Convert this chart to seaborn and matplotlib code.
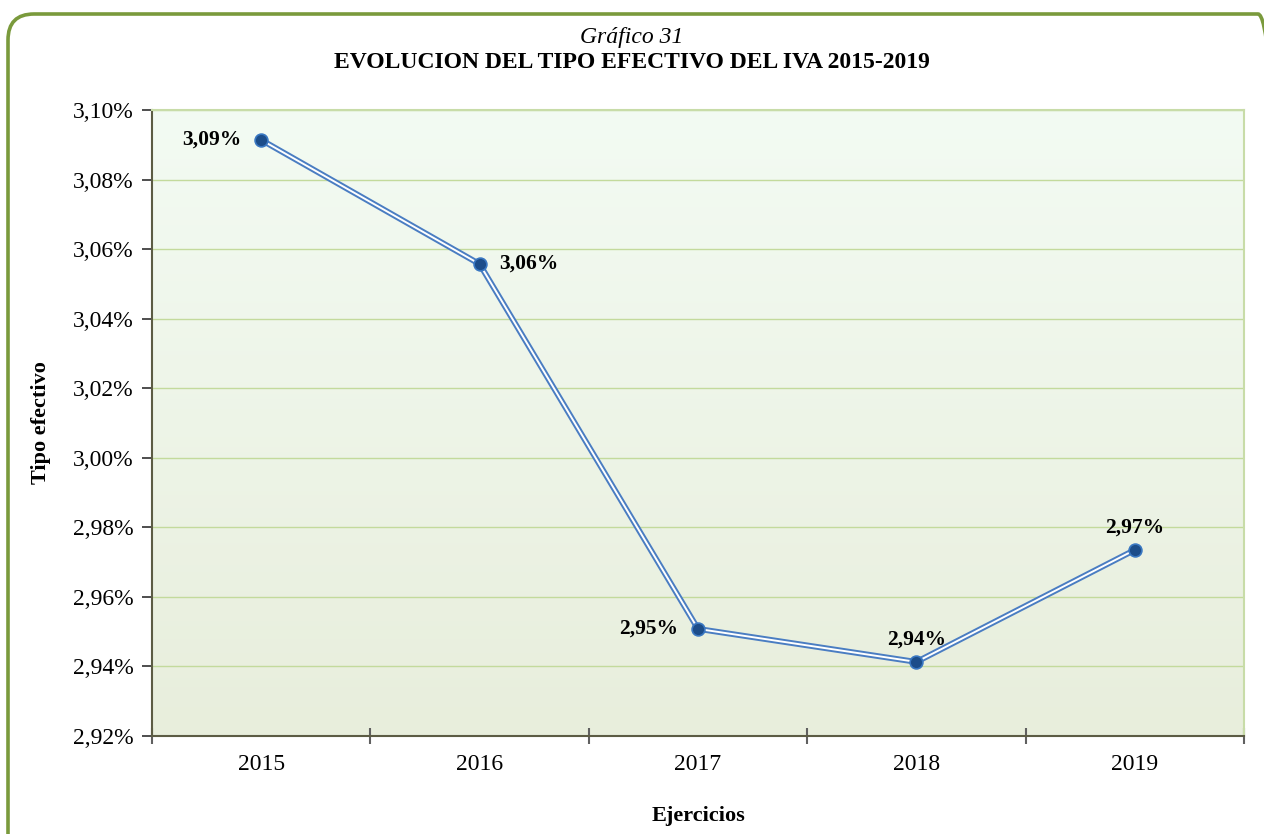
import matplotlib
matplotlib.use("Agg")
import matplotlib.pyplot as plt
import numpy as np
import seaborn as sns
import pandas as pd
from matplotlib.patches import FancyBboxPatch
from matplotlib.colors import LinearSegmentedColormap
from matplotlib.ticker import FixedLocator, FuncFormatter
from matplotlib.transforms import IdentityTransform

# Datos
ejercicios = ["2015", "2016", "2017", "2018", "2019"]
tipo_efectivo = [3.0914, 3.0557, 2.9508, 2.9413, 2.9735]
etiquetas = ["3,09%", "3,06%", "2,95%", "2,94%", "2,97%"]
y_ticks = [2.92, 2.94, 2.96, 2.98, 3.00, 3.02, 3.04, 3.06, 3.08, 3.10]

df = pd.DataFrame({"Ejercicio": ejercicios, "Tipo": tipo_efectivo})

sns.set_style("white")
plt.rcParams["font.family"] = ["Liberation Serif", "DejaVu Serif"]
plt.rcParams["text.color"] = "black"
plt.rcParams["axes.labelcolor"] = "black"
plt.rcParams["xtick.color"] = "black"
plt.rcParams["ytick.color"] = "black"

fig = plt.figure(figsize=(12.64, 8.34), dpi=100)
ax = fig.add_axes([152 / 1264, 1 - 736 / 834, (1244 - 152) / 1264, (736 - 110) / 834])

# Marco redondeado en píxeles (sale por la derecha y por abajo)
marco = FancyBboxPatch((8, -40), 1284 - 8, 834 - 14 + 40,
                       boxstyle="round,pad=0,rounding_size=26",
                       transform=IdentityTransform(), facecolor="none",
                       edgecolor="#7a9a3c", linewidth=2.6, zorder=0)
fig.patches.append(marco)

# Fondo degradado
grad = np.linspace(0, 1, 256).reshape(-1, 1)
cmap = LinearSegmentedColormap.from_list("fondo", ["#f3fbf3", "#e8eedc"])
ax.imshow(grad, extent=[-0.5, 4.5, 2.92, 3.10], aspect="auto", cmap=cmap,
          origin="upper", zorder=0)

# Cuadrícula
for v in y_ticks[1:]:
    ax.axhline(v, color="#c3da9c", linewidth=1.0, zorder=1)

# Línea doble
x_pos = np.arange(len(ejercicios))
sns.lineplot(x=x_pos, y=df["Tipo"], ax=ax, color="#4a7dc2", linewidth=4.2,
             zorder=3, legend=False)
sns.lineplot(x=x_pos, y=df["Tipo"], ax=ax, color="white", linewidth=1.4,
             zorder=4, legend=False)
sns.scatterplot(x=x_pos, y=df["Tipo"], ax=ax, s=85, color="#1c4d8a",
                edgecolor="#3a78c2", linewidth=1.2, zorder=5, legend=False)

# Etiquetas de datos
offsets = [(-14, 0, "right", "center"), (14, 0, "left", "center"),
           (-14, 0, "right", "center"), (0, 9, "center", "bottom"),
           (0, 9, "center", "bottom")]
for i, (dx, dy, ha, va) in enumerate(offsets):
    ax.annotate(etiquetas[i], (x_pos[i], tipo_efectivo[i]), xytext=(dx, dy),
                textcoords="offset points", ha=ha, va=va, fontsize=15.5,
                fontweight="bold", zorder=6)

ax.set_xlim(-0.5, 4.5)
ax.set_ylim(2.92, 3.10)

ax.set_yticks(y_ticks)
ax.yaxis.set_major_formatter(FuncFormatter(lambda v, p: f"{v:.2f}%".replace(".", ",")))
ax.set_xticks(x_pos)
ax.set_xticklabels(ejercicios)
ax.xaxis.set_minor_locator(FixedLocator(np.arange(-0.5, 5, 1)))
ax.tick_params(axis="both", which="both", bottom=True, left=True)
ax.tick_params(axis="x", which="major", length=0, labelsize=17, pad=13)
ax.tick_params(axis="x", which="minor", length=11, direction="inout", width=1.5,
               color="#606060")
ax.tick_params(axis="y", length=7, direction="out", width=1.3,
               color="#404040", labelsize=17, pad=6)

for s in ["left", "bottom"]:
    ax.spines[s].set_color("#5c5c44")
    ax.spines[s].set_linewidth(1.5)
for s in ["top", "right"]:
    ax.spines[s].set_color("#c8dca8")
    ax.spines[s].set_linewidth(1.5)

ax.set_xlabel("Ejercicios", fontsize=16, fontweight="bold", labelpad=22)
ax.set_ylabel("Tipo efectivo", fontsize=16, fontweight="bold", labelpad=16)

fig.text(0.5, 1 - 38 / 834, "Gráfico 31", ha="center", va="center",
         fontsize=17, style="italic")
fig.text(0.5, 1 - 62 / 834, "EVOLUCION DEL TIPO EFECTIVO DEL IVA 2015-2019",
         ha="center", va="center", fontsize=17, fontweight="bold")

fig.savefig("out.png", dpi=100)
